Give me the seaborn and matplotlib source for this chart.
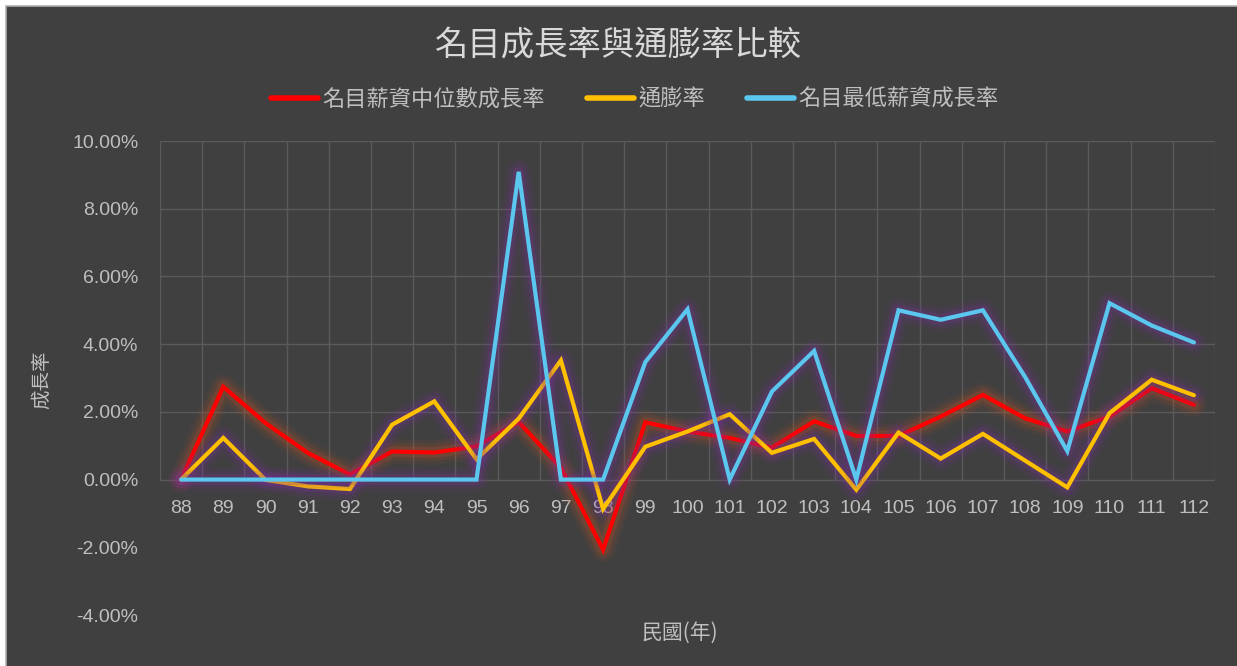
import numpy as np
import pandas as pd
import seaborn as sns
import matplotlib.pyplot as plt
import matplotlib.patheffects as pe
from matplotlib.patches import Rectangle
from matplotlib.lines import Line2D

# 民國年
years = list(range(88, 113))

# values in percent
median_wage = [0.00, 2.74, 1.67, 0.79, 0.15, 0.83, 0.80, 0.98, 1.70, 0.35,
               -2.07, 1.69, 1.42, 1.23, 0.94, 1.72, 1.29, 1.29, 1.86, 2.50,
               1.81, 1.42, 1.86, 2.70, 2.21]
inflation = [0.00, 1.23, -0.01, -0.20, -0.28, 1.62, 2.31, 0.60, 1.80, 3.52,
             -0.87, 0.97, 1.42, 1.93, 0.79, 1.20, -0.30, 1.39, 0.62, 1.35,
             0.56, -0.23, 1.96, 2.95, 2.49]
min_wage = [0.00, 0.00, 0.00, 0.00, 0.00, 0.00, 0.00, 0.00, 9.09, 0.00,
            0.00, 3.47, 5.03, 0.00, 2.60, 3.80, 0.00, 5.00, 4.72, 5.00,
            3.03, 0.84, 5.21, 4.55, 4.05]

series_names = ['名目薪資中位數成長率', '通膨率', '名目最低薪資成長率']
colors = ['#ff0000', '#ffc000', '#5bc6ee']
glows = ['#c8501e', '#7a2fa0', '#7a2fa0']

df = pd.DataFrame({
    'year': years * 3,
    'rate': median_wage + inflation + min_wage,
    'series': sum([[n] * len(years) for n in series_names], []),
})

sns.set_theme(style='dark')
plt.rcParams['font.family'] = ['Liberation Sans', 'Noto Sans CJK TC', 'DejaVu Sans']
cjk = ['Noto Sans CJK TC', 'DejaVu Sans']

bg = '#404040'
txt = '#bfbfbf'
grid_c = '#5a5a5a'

fig = plt.figure(figsize=(12.37, 6.66), dpi=100)
fig.patch.set_facecolor('white')
# chart panel; only its top and left edges fall inside the picture
fig.add_artist(Rectangle((6 / 1237, -0.5), 2, 1.5 - 6 / 666, transform=fig.transFigure,
                         facecolor=bg, edgecolor='#b0b0b0', linewidth=1.2, zorder=-1))

ax = fig.add_axes([160 / 1237, 51 / 666, 1055 / 1237, 474 / 666])
ax.set_facecolor(bg)

sns.lineplot(data=df, x='year', y='rate', hue='series', hue_order=series_names,
             palette=colors, linewidth=3, legend=False, ax=ax, zorder=3)

for line, g in zip(ax.lines, glows):
    line.set_solid_joinstyle('miter')
    line.set_path_effects([
        pe.Stroke(linewidth=18, foreground=g, alpha=0.07, joinstyle='round'),
        pe.Stroke(linewidth=13, foreground=g, alpha=0.12, joinstyle='round'),
        pe.Stroke(linewidth=8, foreground=g, alpha=0.22, joinstyle='round'),
        pe.Normal(),
    ])

ax.set_xlim(87.5, 112.5)
ax.set_ylim(-4, 10)
ax.set_xticks(years)
xbounds = np.arange(87.5, 113, 1)
yticks = np.arange(-4, 10.1, 2)
ax.set_yticks(yticks)
ax.yaxis.set_major_formatter(plt.FuncFormatter(lambda v, p: f'{v:.2f}%'))

for s in ax.spines.values():
    s.set_visible(False)
ax.spines['bottom'].set_position(('data', 0))

ax.tick_params(axis='x', length=0, pad=14.5, labelsize=14, labelcolor=txt)
ax.tick_params(axis='y', length=0, pad=15.5, labelsize=14, labelcolor=txt)

# gridlines only over the non-negative part, like the source
ax.grid(False)
ax.vlines(xbounds, 0, 10, color=grid_c, linewidth=1, zorder=1)
ax.hlines(yticks[yticks >= 0], 87.5, 112.5, color=grid_c, linewidth=1, zorder=1)

ax.set_xlabel('')
ax.set_ylabel('')

fig.text(0.5, 1 - 45 / 666, '名目成長率與通膨率比較', ha='center', va='center',
         fontsize=24, color='#d9d9d9', family=cjk, fontweight='light')
fig.text(42 / 1237, 1 - 380 / 666, '成長率', rotation=90, ha='center', va='center',
         fontsize=14, color=txt, family=cjk)
fig.text(680 / 1237, 1 - 633 / 666, '民國(年)', ha='center', va='center',
         fontsize=15, color=txt, family=cjk)

handles = [Line2D([], [], color=c, linewidth=4) for c in colors]
leg = fig.legend(handles, series_names, loc='center', ncol=3,
                 bbox_to_anchor=(635 / 1237, 1 - 99 / 666), frameon=False,
                 prop={'family': cjk, 'size': 16}, handlelength=2.1,
                 handletextpad=0.2, columnspacing=1.9, labelcolor=txt)

fig.savefig('out.png', dpi=100, facecolor=fig.get_facecolor())
